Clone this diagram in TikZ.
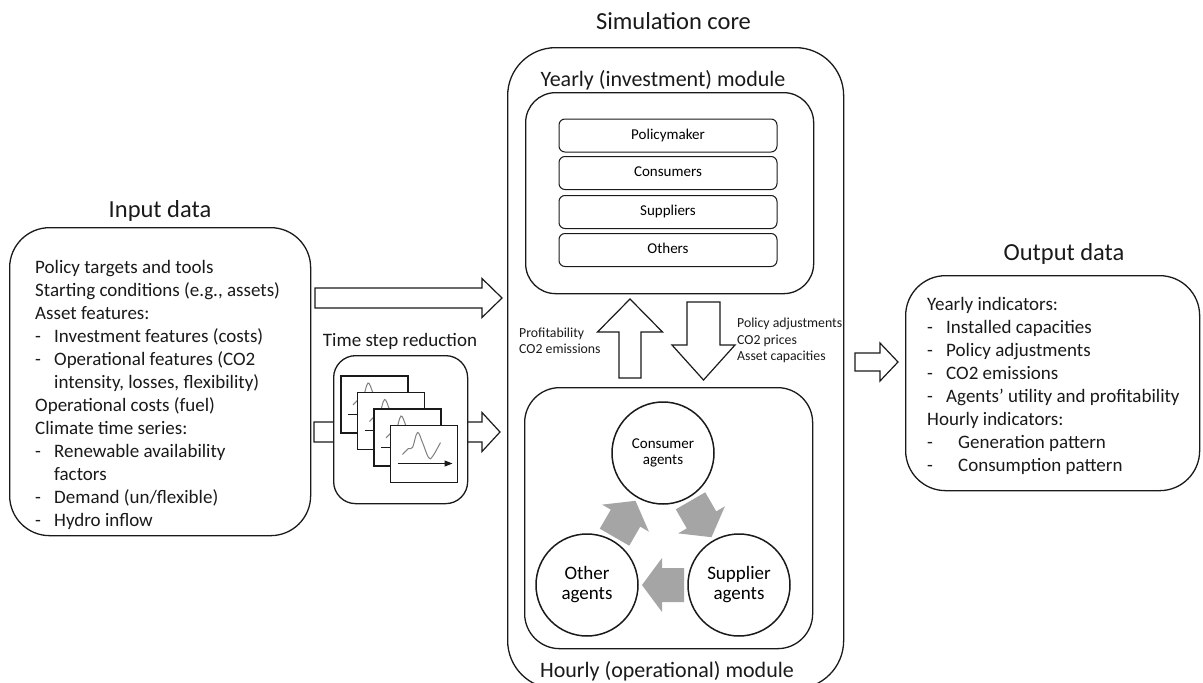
\documentclass[tikz,border=0pt]{standalone}
\usepackage{fontspec}
\setmainfont{Carlito}
\usetikzlibrary{calc,arrows.meta}

\definecolor{ink}{HTML}{1A1A1A}
\definecolor{arrgray}{HTML}{A5A5A5}

\tikzset{
  box/.style={draw=ink, line width=1.3pt, fill=white, inner sep=0pt},
  agentbox/.style={draw=ink, line width=1pt, rounded corners=6pt, minimum width=218pt,
    minimum height=33pt, inner sep=0pt, text height=10.5pt, text depth=3pt,
    font=\fontsize{15}{17}\selectfont},
  agentcirc/.style={draw=ink, line width=1.5pt, circle, minimum size=102pt, inner sep=0pt, align=center},
  whitearr/.style={draw=ink, line width=1.2pt, fill=white, line join=miter},
  grayarr/.style={draw=none, fill=arrgray},
  maintitle/.style={font=\fontsize{24.5}{29}\selectfont, text=ink, inner sep=0pt, anchor=base},
  modtitle/.style={font=\fontsize{22}{26}\selectfont, text=ink, inner sep=0pt, anchor=base},
  bodytext/.style={font=\fontsize{19}{23}\selectfont, text=ink, inner sep=0pt, anchor=base west},
  smalllab/.style={font=\fontsize{13.8}{16.5}\selectfont, text=ink, inner sep=0pt, anchor=base west},
}

% #1 style, #2 centre, #3 angle, #4 length, #5 shaft half width, #6 head half width, #7 head length
\newcommand\blockarrow[7]{%
  \begin{scope}[shift={#2}, rotate=#3]
    \draw[#1] (-#4/2,-#5) -- (#4/2-#7,-#5) -- (#4/2-#7,-#6) -- (#4/2,0)
      -- (#4/2-#7,#6) -- (#4/2-#7,#5) -- (-#4/2,#5) -- cycle;
  \end{scope}}

% one frame of the time step reduction stack, top-left corner
\newcommand\tsframe[3]{%
  \begin{scope}[shift={(#2,#3)}]
    \coordinate (#1) at (0,0);
    \draw[draw=ink, line width=1.3pt, fill=white] (0,0) rectangle (67,57);
    \draw[gray, line width=1pt] plot[smooth, tension=0.6] coordinates
      {(12,29) (18,23) (22,22) (27,7) (32,17) (38,32) (42,31) (50,17)};
    \draw[ink, line width=1pt, -{Triangle[length=8pt,width=6pt]}] (7,38) -- (62,38);
  \end{scope}}

\begin{document}
\begin{tikzpicture}[x=1pt, y=-1pt]
\useasboundingbox (0,0) rectangle (1203,683);
\clip (0,0) rectangle (1203,683);

% ---------------- Input data ----------------
\node[maintitle] (intitle) at (160,217) {Input data};
\node[box, rounded corners=40pt, minimum width=301pt, minimum height=308pt, anchor=north west]
  (input) at (9,227) {};
\foreach \txt [count=\i from 0] in {
  Policy targets and tools,
  {Starting conditions (e.g., assets)},
  Asset features:,
  \makebox[19pt][l]{-}Investment features (costs),
  \makebox[19pt][l]{-}Operational features (CO2,
  {\hspace*{19pt}intensity, losses, flexibility)},
  Operational costs (fuel),
  Climate time series:,
  \makebox[19pt][l]{-}Renewable availability,
  \hspace*{19pt}factors,
  \makebox[19pt][l]{-}Demand (un/flexible),
  \makebox[19pt][l]{-}Hydro inflow}
  \node[bodytext] (inl\i) at (35,273+23*\i) {\txt};

% ---------------- Simulation core ----------------
\node[maintitle] (simtitle) at (673.5,29) {Simulation core};
\node[modtitle] (yeartitle) at (663,86) {Yearly (investment) module};
\node[box, rounded corners=30pt, minimum width=288pt, minimum height=201pt, anchor=north west]
  (yearly) at (525,92) {};
\node[agentbox] (pol) at (668,135.5) {Policymaker};
\node[agentbox] (con) at (668,173) {Consumers};
\node[agentbox] (sup) at (668,212) {Suppliers};
\node[agentbox] (oth) at (668,250) {Others};

% exchange arrows between modules
\blockarrow{whitearr}{(630,338.5)}{90}{79}{11}{32.5}{33}
\blockarrow{whitearr}{(703.5,341)}{-90}{78}{16.5}{31.5}{35}
\node[smalllab] (lab1) at (519,337) {Profitability};
\node[smalllab] (lab2) at (519,353.5) {CO2 emissions};
\node[smalllab] (lab3) at (737,327.5) {Policy adjustments};
\node[smalllab] (lab4) at (737,344) {CO2 prices};
\node[smalllab] (lab5) at (737,360.5) {Asset capacities};

% hourly module
\node[box, rounded corners=35pt, minimum width=288pt, minimum height=261pt, anchor=north west]
  (hourly) at (524,387) {};
\node[agentcirc, font=\fontsize{15}{16.7}\selectfont] (cons) at (663,453) {Consumer\\agents};
\node[agentcirc, font=\fontsize{19}{20}\selectfont] (other) at (587,585) {Other\\agents};
\node[agentcirc, font=\fontsize{19}{20}\selectfont] (supp) at (739,585) {Supplier\\agents};
\blockarrow{grayarr}{($(cons)!0.5!(supp)$)}{-60}{42}{17}{27}{20}
\blockarrow{grayarr}{($(supp)!0.5!(other)$)}{180}{42}{17}{27}{20}
\blockarrow{grayarr}{($(other)!0.5!(cons)$)}{60}{42}{17}{27}{20}
\node[modtitle] (hourtitle) at (667,677) {Hourly (operational) module};

% outer simulation-core frame (drawn over the labels)
\node[box, fill=none, rounded corners=48pt, minimum width=336pt, minimum height=641pt, anchor=north west]
  (sim) at (507,47) {};

% ---------------- input arrows and time step reduction ----------------
\blockarrow{whitearr}{(408.5,298)}{0}{187}{10}{19.5}{20}
\blockarrow{whitearr}{(407,432)}{0}{186}{10}{19.5}{18}
\node[font=\fontsize{19}{23}\selectfont, text=ink, inner sep=0pt, anchor=base] (tstitle) at (400,346) {Time step reduction};
\node[box, rounded corners=22pt, minimum width=134pt, minimum height=148pt, anchor=north west]
  (tsbox) at (333,355) {};
\tsframe{f1}{341}{376}
\tsframe{f2}{357.5}{392.5}
\tsframe{f3}{374}{409}
\tsframe{f4}{390.5}{425.5}

% ---------------- Output data ----------------
\blockarrow{whitearr}{(876.5,362)}{0}{43}{9}{19}{18}
\node[maintitle] (outtitle) at (1064,260) {Output data};
\node[box, rounded corners=40pt, minimum width=294pt, minimum height=215pt, anchor=north west]
  (output) at (905,275) {};
\foreach \txt [count=\i from 0] in {
  Yearly indicators:,
  \makebox[19pt][l]{-}Installed capacities,
  \makebox[19pt][l]{-}Policy adjustments,
  \makebox[19pt][l]{-}CO2 emissions,
  \makebox[19pt][l]{-}Agents’ utility and profitability,
  Hourly indicators:,
  \makebox[31pt][l]{-}Generation pattern,
  \makebox[31pt][l]{-}Consumption pattern}
  \node[bodytext] (outl\i) at (927,310+23*\i) {\txt};
\end{tikzpicture}
\end{document}
